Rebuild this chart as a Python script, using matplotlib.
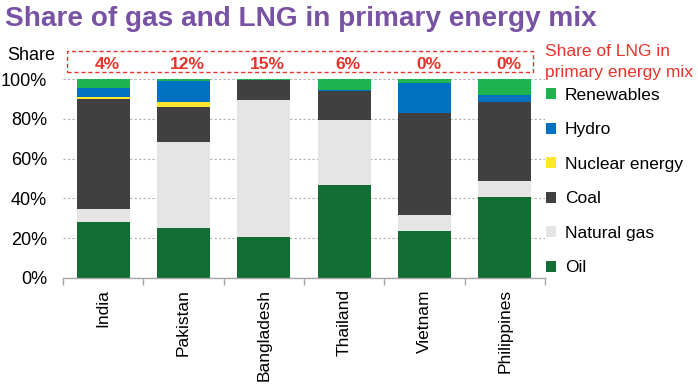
import matplotlib
matplotlib.use("Agg")
import matplotlib.pyplot as plt
from matplotlib.patches import Rectangle, Patch
import numpy as np

plt.rcParams['font.family'] = ['Liberation Sans', 'DejaVu Sans']

countries = ["India", "Pakistan", "Bangladesh", "Thailand", "Vietnam", "Philippines"]
oil = [28.2, 25.0, 20.5, 46.6, 23.5, 40.6]
natural_gas = [6.4, 43.3, 68.9, 32.8, 8.1, 8.1]
coal = [55.3, 17.6, 10.0, 14.7, 51.3, 39.7]
nuclear = [1.0, 2.5, 0.0, 0.0, 0.0, 0.0]
hydro = [4.7, 10.6, 0.3, 0.5, 15.1, 3.5]
renewables = [4.4, 1.0, 0.3, 5.4, 2.0, 8.1]
lng_share = ["4%", "12%", "15%", "6%", "0%", "0%"]

series_names = ["Oil", "Natural gas", "Coal", "Nuclear energy", "Hydro", "Renewables"]
series_vals = [oil, natural_gas, coal, nuclear, hydro, renewables]
colors = ["#126e34", "#e5e5e5", "#404040", "#ffe52b", "#0070c0", "#1db34f"]

W, H = 698, 385
fig = plt.figure(figsize=(W / 100, H / 100), dpi=100)
ax = fig.add_axes([63 / W, (H - 278) / H, (545 - 63) / W, (278 - 79) / H])

x = np.arange(len(countries))
bottom = np.zeros(len(countries))
handles = []
for name, vals, c in zip(series_names, series_vals, colors):
    ax.bar(x, vals, bottom=bottom, width=0.66, color=c, zorder=2)
    bottom += np.array(vals)
    handles.append(Patch(facecolor=c, label=name))

ax.set_xlim(-0.5, len(countries) - 0.5)
ax.set_ylim(0, 100)
ax.set_yticks(np.arange(0, 101, 20))
ax.set_yticklabels([f"{v}%" for v in range(0, 101, 20)], fontsize=13)
ax.yaxis.grid(True, color="#b0b0b0", linestyle=(0, (2, 2)), linewidth=0.8, zorder=0)
ax.tick_params(axis='y', length=0, pad=11.5)
ax.set_xticks(x)
ax.set_xticklabels(countries, rotation=90, fontsize=12.5)
ax.tick_params(axis='x', length=0, pad=8)
ax.set_xticks(np.arange(-0.5, len(countries), 1.0), minor=True)
ax.tick_params(axis='x', which='minor', length=5, color="#a6a6a6", width=1)
for s in ["left", "right", "top"]:
    ax.spines[s].set_visible(False)
ax.spines["bottom"].set_color("#a6a6a6")
ax.spines["bottom"].set_linewidth(1)

# LNG share box and labels
box = Rectangle((-0.45, 103.5), 5.8, 10.5, fill=False, edgecolor="#e8332a",
                linestyle=(0, (3, 2)), linewidth=1, clip_on=False)
ax.add_patch(box)
for xi, lab in zip(x, lng_share):
    ax.text(xi + 0.05, 107.2, lab, ha="center", va="center", color="#e8332a",
            fontsize=12.5, fontweight="bold", clip_on=False)

fig.text(5 / W, 1 - 19 / H, "Share of gas and LNG in primary energy mix",
         color="#7852a3", fontsize=20.2, fontweight="bold", va="center", ha="left")
fig.text(7 / W, 1 - 56 / H, "Share", fontsize=13, va="center", ha="left")
fig.text(545 / W, 1 - 52 / H, "Share of LNG in", color="#e8332a", fontsize=12.5,
         va="center", ha="left")
fig.text(545 / W, 1 - 72 / H, "primary energy mix", color="#e8332a", fontsize=12.5,
         va="center", ha="left")

leg = fig.legend(handles=handles[::-1], loc="upper left",
                 bbox_to_anchor=(546 / W, 1 - 88 / H), frameon=False,
                 fontsize=12.5, handlelength=0.6, handleheight=0.6,
                 handletextpad=0.5, labelspacing=1.12, borderaxespad=0, borderpad=0)

fig.savefig("out.png", dpi=100)
